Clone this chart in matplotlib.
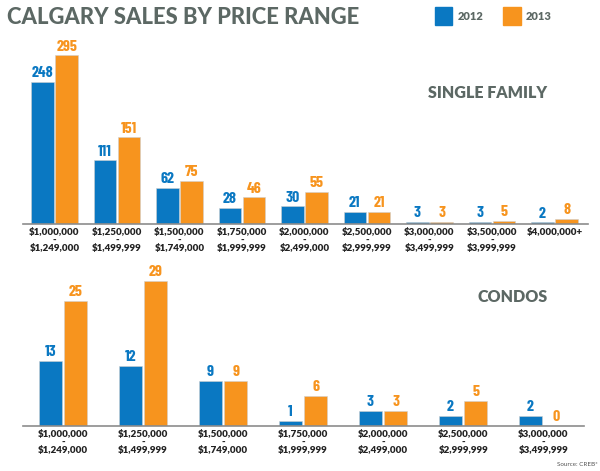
import matplotlib
matplotlib.use('Agg')
import matplotlib.pyplot as plt
import numpy as np

# data
single_lo = ['$1,000,000', '$1,250,000', '$1,500,000', '$1,750,000', '$2,000,000',
             '$2,500,000', '$3,000,000', '$3,500,000', '$4,000,000+']
single_hi = ['$1,249,000', '$1,499,999', '$1,749,000', '$1,999,999', '$2,499,000',
             '$2,999,999', '$3,499,999', '$3,999,999', '']
single_2012 = [248, 111, 62, 28, 30, 21, 3, 3, 2]
single_2013 = [295, 151, 75, 46, 55, 21, 3, 5, 8]

condo_lo = single_lo[:7]
condo_hi = single_hi[:7]
condo_2012 = [13, 12, 9, 1, 3, 2, 2]
condo_2013 = [25, 29, 9, 6, 3, 5, 0]

BLUE = '#0a78c2'
ORANGE = '#f7941e'
GRAY = '#5c6864'
DARK = '#222222'

main_font = ['Lato', 'DejaVu Sans']
num_font = ['Barlow Condensed', 'Roboto Condensed', 'DejaVu Sans']

fig = plt.figure(figsize=(6, 4.71), dpi=100)


def draw_panel(ax, lo, hi, v12, v13, off, width, ymax, title, title_xy):
    x = np.arange(len(lo))
    b1 = ax.bar(x - off, v12, width, color=BLUE, edgecolor='#cfcfcf', linewidth=0.4)
    b2 = ax.bar(x + off, v13, width, color=ORANGE, edgecolor='#cfcfcf', linewidth=0.4)
    for bars, vals, col in ((b1, v12, BLUE), (b2, v13, ORANGE)):
        for r, v in zip(bars, vals):
            ax.annotate(str(v), (r.get_x() + r.get_width() / 2, r.get_height()),
                        xytext=(0, 1.2), textcoords='offset points', ha='center', va='bottom',
                        fontsize=11.5, fontweight='bold', color=col, family=num_font)
    # three-line category labels
    for xi, a, b in zip(x, lo, hi):
        kw = dict(xycoords=('data', 'axes fraction'), textcoords='offset points',
                  ha='center', va='center', fontsize=7, fontweight='heavy', color=DARK,
                  family=main_font)
        ax.annotate(a, (xi, 0), xytext=(0, -6.2), **kw)
        if b:
            ax.annotate('-', (xi, 0), xytext=(0, -12.0), **kw)
            ax.annotate(b, (xi, 0), xytext=(0, -17.7), **kw)
    ax.set_ylim(0, ymax)
    ax.set_xticks([])
    ax.set_yticks([])
    for s in ['top', 'right', 'left']:
        ax.spines[s].set_visible(False)
    ax.spines['bottom'].set_color('#8c8c8c')
    ax.spines['bottom'].set_linewidth(1.2)
    fig.text(title_xy[0], title_xy[1], title, fontsize=11.5, fontweight='heavy', color=GRAY,
             family=main_font, ha='center', va='center')


ax1 = fig.add_axes([23 / 600, 1 - 223.5 / 471, 565 / 600, 171 / 471])
ax1.set_xlim(-0.504, 8.536)
draw_panel(ax1, single_lo, single_hi, single_2012, single_2013, 0.195, 0.36, 300,
           'SINGLE FAMILY', (488 / 600, 1 - 92.5 / 471))

ax2 = fig.add_axes([23 / 600, 1 - 426 / 471, 561 / 600, 150 / 471])
ax2.set_xlim(-0.5, 6.51)
draw_panel(ax2, condo_lo, condo_hi, condo_2012, condo_2013, 0.16, 0.2875, 30,
           'CONDOS', (513 / 600, 1 - 297 / 471))

fig.text(7 / 600, 1 - 17 / 471, 'CALGARY SALES BY PRICE RANGE', fontsize=15.8, fontweight=900,
         color=GRAY, family=main_font, ha='left', va='center')

# legend
fig.patches.append(plt.Rectangle((435 / 600, 1 - 25 / 471), 17 / 600, 18 / 471,
                                 transform=fig.transFigure, color=BLUE))
fig.patches.append(plt.Rectangle((503 / 600, 1 - 25 / 471), 18 / 600, 18 / 471,
                                 transform=fig.transFigure, color=ORANGE))
fig.text(458 / 600, 1 - 17 / 471, '2012', fontsize=8, fontweight='heavy', color=GRAY,
         family=main_font, ha='left', va='center')
fig.text(526 / 600, 1 - 17 / 471, '2013', fontsize=8, fontweight='heavy', color=GRAY,
         family=main_font, ha='left', va='center')

fig.text(598 / 600, 1 - 465 / 471, 'Source: CREB*', fontsize=4.5, color='#555555',
         family=main_font, ha='right', va='center')

plt.savefig('out.png', dpi=100)
